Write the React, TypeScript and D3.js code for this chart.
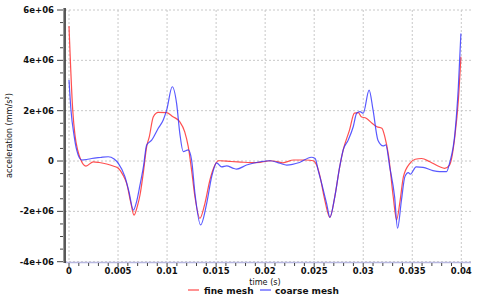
import React from "react";
import * as d3 from "d3";

// time in seconds, acceleration in mm/s^2
const fineTime = [0, 0.00038, 0.00061, 0.00088, 0.0012, 0.00173, 0.00248, 0.0031, 0.00384, 0.0045, 0.00503, 0.0055, 0.00588, 0.0063, 0.00663, 0.007, 0.00724, 0.00757, 0.00792, 0.00819, 0.0086, 0.0091, 0.00996, 0.0106, 0.0113, 0.0118, 0.01216, 0.0125, 0.01284, 0.01335, 0.01386, 0.01437, 0.01488, 0.01522, 0.0154, 0.0165, 0.0175, 0.0185, 0.0195, 0.0205, 0.0212, 0.0218, 0.0229, 0.0242, 0.0249, 0.02525, 0.0256, 0.026, 0.0266, 0.0271, 0.0276, 0.02796, 0.0286, 0.0291, 0.0295, 0.0298, 0.0303, 0.0309, 0.0314, 0.0319, 0.0322, 0.0326, 0.03306, 0.0334, 0.03375, 0.0341, 0.03476, 0.0353, 0.03595, 0.0368, 0.0378, 0.0383, 0.0388, 0.03935, 0.0397, 0.03996];
const fineAcc = [5.36e6, 2.03e6, 1.03e6, 0.44e6, 0.05e6, -0.2e6, -0.03e6, -0.06e6, -0.12e6, -0.2e6, -0.29e6, -0.55e6, -0.89e6, -1.65e6, -2.15e6, -1.75e6, -1.35e6, -0.49e6, 0.57e6, 0.97e6, 1.76e6, 1.93e6, 1.92e6, 1.76e6, 1.56e6, 1.16e6, 0.57e6, -0.36e6, -1.42e6, -2.28e6, -1.68e6, -0.75e6, -0.16e6, 0.01e6, 0.01e6, -0.02e6, -0.04e6, -0.06e6, -0.05e6, 0.01e6, -0.02e6, -0.07e6, 0.04e6, 0.04e6, 0.01e6, -0.16e6, -0.62e6, -1.4e6, -2.24e6, -1.42e6, -0.23e6, 0.44e6, 1.23e6, 1.9e6, 1.92e6, 1.76e6, 1.7e6, 1.5e6, 1.36e6, 1.3e6, 0.97e6, 0.17e6, -1.42e6, -2.34e6, -1.6e6, -0.62e6, -0.09e6, 0.07e6, 0.1e6, -0.03e6, -0.23e6, -0.29e6, -0.16e6, 1.0e6, 2.42e6, 4.14e6];

const coarseTime = [0, 0.0002, 0.00051, 0.00078, 0.00129, 0.0018, 0.00231, 0.0032, 0.004, 0.0046, 0.00503, 0.0057, 0.0061, 0.00656, 0.0069, 0.00724, 0.0076, 0.00792, 0.00843, 0.0091, 0.00961, 0.00996, 0.01053, 0.01097, 0.0113, 0.01165, 0.01216, 0.0125, 0.01284, 0.01342, 0.01404, 0.01455, 0.01505, 0.01556, 0.01607, 0.01675, 0.0171, 0.0181, 0.0195, 0.0205, 0.0215, 0.0222, 0.0235, 0.0247, 0.0251, 0.0254, 0.02576, 0.0263, 0.0266, 0.0271, 0.0276, 0.02796, 0.02847, 0.02898, 0.02933, 0.02967, 0.03, 0.0306, 0.031, 0.0315, 0.03204, 0.0323, 0.0327, 0.0332, 0.0335, 0.0339, 0.03425, 0.0346, 0.0348, 0.0354, 0.0361, 0.0371, 0.0378, 0.0385, 0.0388, 0.03935, 0.0397, 0.03996];
const coarseAcc = [3.22e6, 2.03e6, 1.03e6, 0.44e6, 0.04e6, 0.06e6, 0.1e6, 0.14e6, 0.17e6, 0.08e6, -0.09e6, -0.62e6, -1.2e6, -1.95e6, -1.6e6, -0.95e6, -0.2e6, 0.64e6, 0.83e6, 1.3e6, 1.63e6, 2.03e6, 2.95e6, 2.29e6, 1.1e6, 0.37e6, 0.44e6, 0.04e6, -1.28e6, -2.54e6, -1.68e6, -0.62e6, -0.07e6, -0.23e6, -0.19e6, -0.29e6, -0.32e6, -0.16e6, -0.03e6, 0.01e6, -0.09e6, -0.16e6, -0.06e6, 0.15e6, 0.1e6, -0.36e6, -0.89e6, -1.75e6, -2.24e6, -1.42e6, -0.23e6, 0.44e6, 0.83e6, 1.36e6, 1.9e6, 1.96e6, 1.9e6, 2.82e6, 2.03e6, 0.83e6, 0.6e6, 0.64e6, -0.23e6, -1.42e6, -2.67e6, -1.55e6, -0.62e6, -0.46e6, -0.52e6, -0.23e6, -0.25e6, -0.38e6, -0.42e6, -0.42e6, -0.09e6, 1.1e6, 2.95e6, 5.07e6];

const xTickValues = [0, 0.005, 0.01, 0.015, 0.02, 0.025, 0.03, 0.035, 0.04];
const xTickLabels = ["0", "0.005", "0.01", "0.015", "0.02", "0.025", "0.03", "0.035", "0.04"];
const yTickValues = [6e6, 4e6, 2e6, 0, -2e6, -4e6];
const yTickLabels = ["6e+06", "4e+06", "2e+06", "0", "-2e+06", "-4e+06"];
const seriesNames = ["fine mesh", "coarse mesh"];
const seriesColors = ["#ff3030", "#3030ff"];

const TICK_FONT = "'DejaVu Sans', Verdana, sans-serif";
const TITLE_FONT = "'Liberation Sans Narrow', 'DejaVu Sans Condensed', 'Arial Narrow', sans-serif";

export default function App() {
  const x = d3.scaleLinear().domain([0, 0.04]).range([69, 461.3]);
  const y = d3.scaleLinear().domain([-4e6, 6e6]).range([261.7, 10]);
  const plotLeft = 65;
  const plotRight = 471;
  const plotTop = 10;
  const plotBottom = 262;

  const line = d3
    .line<[number, number]>()
    .x((d) => x(d[0]))
    .y((d) => y(d[1]))
    .curve(d3.curveMonotoneX);

  const fine: [number, number][] = fineTime.map((t, i) => [t, fineAcc[i]]);
  const coarse: [number, number][] = coarseTime.map((t, i) => [t, coarseAcc[i]]);

  const xMinor = d3.range(0, 41).map((i) => i / 1000);
  const yMinor = d3.range(-8, 13).map((i) => i * 0.5e6);

  return (
    <svg
      width={478}
      height={299}
      style={{ position: "absolute", left: 0, top: 0, background: "#fff" }}
    >
      <rect x={0} y={0} width={478} height={299} fill="#fff" />
      {/* grid */}
      {yTickValues.map((v) => (
        <line
          key={"gy" + v}
          x1={plotLeft}
          x2={plotRight}
          y1={y(v)}
          y2={y(v)}
          stroke="#c8c8c8"
          strokeWidth={1}
          strokeDasharray="2,2"
        />
      ))}
      {xTickValues.map((v) => (
        <line
          key={"gx" + v}
          x1={x(v)}
          x2={x(v)}
          y1={plotTop}
          y2={plotBottom}
          stroke="#c8c8c8"
          strokeWidth={1}
          strokeDasharray="2,2"
        />
      ))}
      {/* series */}
      <path d={line(fine) || ""} fill="none" stroke={seriesColors[0]} strokeWidth={1.2} strokeOpacity={0.85} />
      <path d={line(coarse) || ""} fill="none" stroke={seriesColors[1]} strokeWidth={1.2} strokeOpacity={0.8} />
      {/* axes */}
      <line x1={plotLeft} x2={plotRight} y1={plotBottom + 0.5} y2={plotBottom + 0.5} stroke="#b8b8e0" strokeWidth={1.5} />
      <line x1={plotLeft - 1.5} x2={plotLeft - 1.5} y1={8} y2={plotBottom + 1} stroke="#999" strokeWidth={1} />
      <line x1={plotLeft} x2={plotLeft} y1={8} y2={plotBottom + 1} stroke="#222" strokeWidth={1.5} />
      {yMinor.map((v) => {
        const major = Math.abs(v % 2e6) < 1;
        return (
          <line
            key={"ty" + v}
            x1={plotLeft - 2}
            x2={plotLeft - (major ? 8 : 5)}
            y1={y(v)}
            y2={y(v)}
            stroke="#444"
            strokeWidth={1}
          />
        );
      })}
      {xMinor.map((v, i) => (
        <line
          key={"tx" + i}
          x1={x(v)}
          x2={x(v)}
          y1={plotBottom + 1}
          y2={plotBottom + (i % 5 === 0 ? 5 : 4)}
          stroke="#444"
          strokeWidth={1}
        />
      ))}
      {yTickValues.map((v, i) => (
        <text
          key={"ly" + v}
          x={54}
          y={y(v)}
          dy="0.35em"
          textAnchor="end"
          fontFamily={TICK_FONT}
          fontWeight="bold"
          fontSize={8.5}
          fill="#111"
        >
          {yTickLabels[i]}
        </text>
      ))}
      {xTickValues.map((v, i) => (
        <text
          key={"lx" + v}
          x={x(v)}
          y={274}
          textAnchor="middle"
          fontFamily={TICK_FONT}
          fontWeight="bold"
          fontSize={8.5}
          fill="#111"
        >
          {xTickLabels[i]}
        </text>
      ))}
      {/* axis titles */}
      <text
        x={265}
        y={284.5}
        textAnchor="middle"
        fontFamily={TITLE_FONT}
        fontSize={9}
        fill="#111"
      >
        time (s)
      </text>
      <text
        transform="translate(12,135.5) rotate(-90)"
        textAnchor="middle"
        fontFamily={TITLE_FONT}
        fontSize={9}
        fill="#111"
      >
        acceleration (mm/s²)
      </text>
      {/* legend */}
      <line x1={188} x2={199} y1={290} y2={290} stroke={seriesColors[0]} strokeOpacity={0.7} strokeWidth={1.5} />
      <text x={204} y={293.5} fontFamily={TICK_FONT} fontWeight="bold" fontSize={9} fill="#111">
        {seriesNames[0]}
      </text>
      <line x1={260} x2={271} y1={290} y2={290} stroke={seriesColors[1]} strokeOpacity={0.7} strokeWidth={1.5} />
      <text x={275} y={293.5} fontFamily={TICK_FONT} fontWeight="bold" fontSize={9} fill="#111">
        {seriesNames[1]}
      </text>
    </svg>
  );
}
